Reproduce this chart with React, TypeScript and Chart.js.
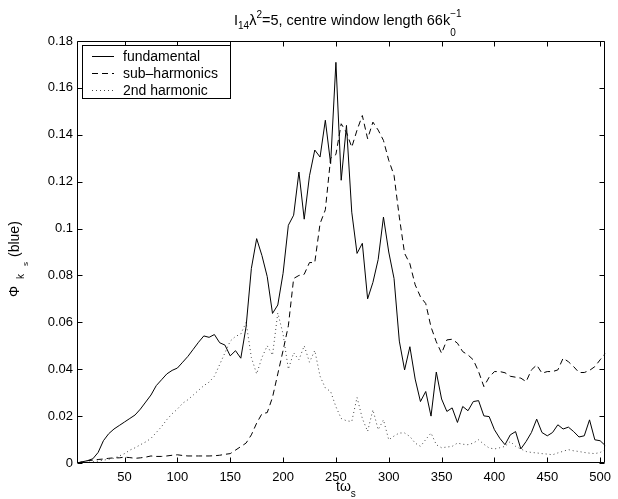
import React, { useEffect, useRef } from "react";
import { Chart, registerables } from "chart.js";

Chart.register(...registerables);

const FONT = '"Liberation Sans", Arial, Helvetica, sans-serif';

// time axis (t·ω_s)
const tValues = [
  5, 10, 15, 20, 25, 30, 35, 40, 45, 50, 55, 60, 65, 70, 75, 80, 85, 90, 95, 100,
  105, 110, 115, 120, 125, 130, 135, 140, 145, 150, 155, 160, 165, 170, 175, 180, 185, 190, 195, 200,
  205, 210, 215, 220, 225, 230, 235, 240, 245, 250, 255, 260, 265, 270, 275, 280, 285, 290, 295, 300,
  305, 310, 315, 320, 325, 330, 335, 340, 345, 350, 355, 360, 365, 370, 375, 380, 385, 390, 395, 400,
  405, 410, 415, 420, 425, 430, 435, 440, 445, 450, 455, 460, 465, 470, 475, 480, 485, 490, 495, 500, 505,
];

const fundamental = [
  0, 0.0005, 0.001, 0.0018, 0.0045, 0.0095, 0.0125, 0.0145, 0.016, 0.0175,
  0.019, 0.0205, 0.023, 0.026, 0.029, 0.033, 0.0355, 0.038, 0.0395, 0.0405,
  0.043, 0.0455, 0.0485, 0.0515, 0.0542, 0.0536, 0.0548, 0.0513, 0.0503, 0.0457,
  0.0479, 0.0447, 0.0581, 0.083, 0.0957, 0.0885, 0.0795, 0.0638, 0.0674, 0.0809,
  0.1014, 0.1057, 0.1241, 0.104, 0.1225, 0.1335, 0.1305, 0.1462, 0.1277, 0.1709,
  0.1206, 0.144, 0.107, 0.0894, 0.0937, 0.07, 0.077, 0.0868, 0.1049, 0.09,
  0.0787, 0.052, 0.0397, 0.0496, 0.0358, 0.0262, 0.0305, 0.02, 0.0388, 0.0273,
  0.022, 0.0235, 0.0173, 0.0241, 0.0223, 0.0262, 0.0266, 0.0201, 0.0198, 0.0142,
  0.0106, 0.0078, 0.012, 0.0134, 0.006, 0.0092, 0.013, 0.0187, 0.013, 0.0116,
  0.013, 0.0163, 0.0145, 0.0153, 0.0134, 0.0111, 0.0116, 0.0184, 0.0099, 0.0095, 0.0074,
];

const subHarmonics = [
  0, 0.0005, 0.001, 0.0012, 0.0015, 0.0017, 0.002, 0.0022, 0.0022, 0.0025,
  0.0023, 0.002, 0.0022, 0.0025, 0.003, 0.0028, 0.0028, 0.003, 0.0033, 0.0035,
  0.0032, 0.003, 0.003, 0.003, 0.003, 0.003, 0.0031, 0.0033, 0.0037, 0.004,
  0.0055, 0.007, 0.0085, 0.012, 0.017, 0.021, 0.0215, 0.028, 0.038, 0.048,
  0.0585, 0.0787, 0.08, 0.0805, 0.0855, 0.0855, 0.1021, 0.108, 0.13, 0.1316,
  0.1447, 0.141, 0.1347, 0.142, 0.1482, 0.1383, 0.1454, 0.142, 0.1376, 0.1291,
  0.1227, 0.1049, 0.0894, 0.085, 0.076, 0.0709, 0.068, 0.058, 0.0517, 0.0468,
  0.0525, 0.0528, 0.0511, 0.0475, 0.0461, 0.044, 0.039, 0.0326, 0.0366, 0.039,
  0.039, 0.0385, 0.037, 0.0366, 0.0362, 0.0347, 0.0397, 0.0418, 0.0383, 0.039,
  0.039, 0.0397, 0.0447, 0.0432, 0.0411, 0.0386, 0.0386, 0.0395, 0.0411, 0.044, 0.0468,
];

const secondHarmonic = [
  0, 0, 0.0003, 0.0005, 0.0008, 0.0012, 0.0016, 0.002, 0.003, 0.004,
  0.0055, 0.0065, 0.0078, 0.009, 0.0105, 0.013, 0.0155, 0.0185, 0.021, 0.023,
  0.0255, 0.027, 0.029, 0.031, 0.033, 0.0345, 0.037, 0.042, 0.047, 0.052,
  0.054, 0.055, 0.06, 0.045, 0.038, 0.045, 0.05, 0.046, 0.064, 0.055,
  0.04, 0.047, 0.044, 0.05, 0.043, 0.048, 0.037, 0.032, 0.0305, 0.024,
  0.019, 0.018, 0.0177, 0.028, 0.019, 0.0135, 0.0227, 0.0142, 0.0184, 0.0099,
  0.0115, 0.0128, 0.0128, 0.0113, 0.0085, 0.0071, 0.01, 0.0128, 0.0078, 0.0065,
  0.0068, 0.0071, 0.0085, 0.008, 0.0078, 0.0085, 0.0099, 0.008, 0.0064, 0.006,
  0.0065, 0.0071, 0.0092, 0.0071, 0.006, 0.0049, 0.0045, 0.0043, 0.004, 0.0038,
  0.0035, 0.0043, 0.005, 0.0057, 0.0052, 0.0049, 0.0045, 0.0042, 0.004, 0.0045, 0.0057,
];

const seriesNames = ["fundamental", "sub\u2013harmonics", "2nd harmonic"];
const xTicks = [50, 100, 150, 200, 250, 300, 350, 400, 450, 500];
const yTicks = [0, 0.02, 0.04, 0.06, 0.08, 0.1, 0.12, 0.14, 0.16, 0.18];
const yTickLabels = ["0", "0.02", "0.04", "0.06", "0.08", "0.1", "0.12", "0.14", "0.16", "0.18"];

type Part = { t: string; size: number; dy: number; stack?: boolean };

function drawParts(ctx: CanvasRenderingContext2D, parts: Part[], x: number, y: number) {
  let cx = x;
  let lastW = 0;
  for (const p of parts) {
    ctx.font = `${p.size}px ${FONT}`;
    const w = ctx.measureText(p.t).width;
    const px = p.stack ? cx - lastW : cx;
    ctx.fillText(p.t, px, y + p.dy);
    if (p.stack) {
      cx = px + Math.max(w, lastW);
    } else {
      cx += w;
    }
    lastW = w;
  }
}

const decorPlugin = {
  id: "decor",
  afterDraw(chart: any) {
    const { ctx, chartArea: a, scales } = chart;
    const xs = scales.x;
    const ys = scales.y;
    ctx.save();
    ctx.strokeStyle = "#000";
    ctx.fillStyle = "#000";
    ctx.lineWidth = 1;
    ctx.setLineDash([]);
    const L = Math.round(a.left) + 0.5;
    const R = Math.round(a.right) - 0.5;
    const T = Math.round(a.top) + 0.5;
    const B = Math.round(a.bottom) - 0.5;
    ctx.beginPath();
    ctx.rect(L, T, R - L, B - T);
    ctx.stroke();
    const tl = 5;
    ctx.beginPath();
    for (const v of xTicks) {
      const p = Math.round(xs.getPixelForValue(v)) + 0.5;
      ctx.moveTo(p, B);
      ctx.lineTo(p, B - tl);
      ctx.moveTo(p, T);
      ctx.lineTo(p, T + tl);
    }
    for (const v of yTicks) {
      const p = Math.round(ys.getPixelForValue(v)) + 0.5;
      ctx.moveTo(L, p);
      ctx.lineTo(L + tl, p);
      ctx.moveTo(R, p);
      ctx.lineTo(R - tl, p);
    }
    ctx.stroke();

    // legend
    const lx = 82.5, ly = 45.5, lw = 148, lh = 53;
    ctx.fillStyle = "#fff";
    ctx.fillRect(lx, ly, lw, lh);
    ctx.strokeStyle = "#000";
    ctx.strokeRect(lx, ly, lw, lh);
    const rows = [56, 73, 90];
    chart.data.datasets.forEach((ds: any, i: number) => {
      const y = rows[i] + 0.5;
      ctx.save();
      ctx.strokeStyle = ds.borderColor;
      ctx.lineWidth = ds.borderWidth;
      ctx.setLineDash(ds.borderDash || []);
      ctx.beginPath();
      ctx.moveTo(92, y);
      ctx.lineTo(114, y);
      ctx.stroke();
      ctx.restore();
      ctx.fillStyle = "#000";
      ctx.font = `14px ${FONT}`;
      ctx.textBaseline = "middle";
      ctx.textAlign = "left";
      ctx.fillText(seriesNames[i], 123, rows[i] + 1);
    });

    // title
    ctx.fillStyle = "#000";
    ctx.textBaseline = "alphabetic";
    ctx.textAlign = "left";
    drawParts(
      ctx,
      [
        { t: "I", size: 14.5, dy: 0 },
        { t: "14", size: 10, dy: 4 },
        { t: "\u03bb", size: 14.5, dy: 0 },
        { t: "2", size: 10, dy: -7 },
        { t: "=5, centre window length 66k", size: 14.5, dy: 0 },
        { t: "0", size: 10, dy: 11 },
        { t: "\u22121", size: 10, dy: -8, stack: true },
      ],
      234,
      24.5
    );

    // x label
    drawParts(
      ctx,
      [
        { t: "t\u03c9", size: 14, dy: 0 },
        { t: "s", size: 10, dy: 6 },
      ],
      336,
      491
    );

    // y label (rotated)
    ctx.save();
    ctx.translate(19, 0);
    ctx.rotate(-Math.PI / 2);
    ctx.font = `14px ${FONT}`;
    ctx.fillText("\u03a6", -297, 0);
    ctx.font = `10px ${FONT}`;
    ctx.fillText("k", -279, 5);
    ctx.font = `8px ${FONT}`;
    ctx.fillText("s", -266, 9);
    ctx.font = `14px ${FONT}`;
    ctx.fillText("(blue)", -257, 0);
    ctx.restore();

    ctx.restore();
  },
};

export default function App() {
  const ref = useRef<HTMLCanvasElement | null>(null);
  useEffect(() => {
    if (!ref.current) return;
    const mk = (ys: number[]) => tValues.map((x, i) => ({ x, y: ys[i] }));
    const chart = new Chart(ref.current, {
      type: "line",
      data: {
        datasets: [
          {
            label: seriesNames[0],
            data: mk(fundamental),
            borderColor: "#000",
            borderWidth: 1,
            pointRadius: 0,
            tension: 0,
            fill: false,
          },
          {
            label: seriesNames[1],
            data: mk(subHarmonics),
            borderColor: "#000",
            borderWidth: 1,
            borderDash: [6, 4],
            pointRadius: 0,
            tension: 0,
            fill: false,
          },
          {
            label: seriesNames[2],
            data: mk(secondHarmonic),
            borderColor: "#444",
            borderWidth: 1,
            borderDash: [1, 3],
            pointRadius: 0,
            tension: 0,
            fill: false,
          },
        ],
      },
      options: {
        responsive: false,
        animation: false,
        devicePixelRatio: 1,
        layout: { padding: { left: 0, right: 5, top: 41, bottom: 0 } },
        plugins: {
          legend: { display: false },
          title: { display: false },
          tooltip: { enabled: false },
        },
        scales: {
          x: {
            type: "linear",
            min: 5,
            max: 505,
            grid: { display: false, tickLength: 0 },
            border: { display: false },
            afterBuildTicks: (s: any) => {
              s.ticks = xTicks.map((v) => ({ value: v }));
            },
            afterFit: (s: any) => {
              s.height = 36;
            },
            ticks: {
              color: "#000",
              font: { family: FONT, size: 13 },
              padding: 7,
              maxRotation: 0,
              autoSkip: false,
              callback: (v: any) => String(v),
            },
          },
          y: {
            type: "linear",
            min: 0,
            max: 0.18,
            grid: { display: false, tickLength: 0 },
            border: { display: false },
            afterBuildTicks: (s: any) => {
              s.ticks = yTicks.map((v) => ({ value: v }));
            },
            afterFit: (s: any) => {
              s.width = 77;
            },
            ticks: {
              color: "#000",
              font: { family: FONT, size: 13 },
              padding: 4,
              autoSkip: false,
              callback: (v: any) => {
                const i = yTicks.findIndex((t) => Math.abs(t - v) < 1e-9);
                return i >= 0 ? yTickLabels[i] : "";
              },
            },
          },
        },
      },
      plugins: [decorPlugin],
    });
    return () => chart.destroy();
  }, []);
  return (
    <div style={{ position: "fixed", left: 0, top: 0, width: 618, height: 499, background: "#fff" }}>
      <canvas ref={ref} width={618} height={499} style={{ width: 618, height: 499, display: "block" }} />
    </div>
  );
}
